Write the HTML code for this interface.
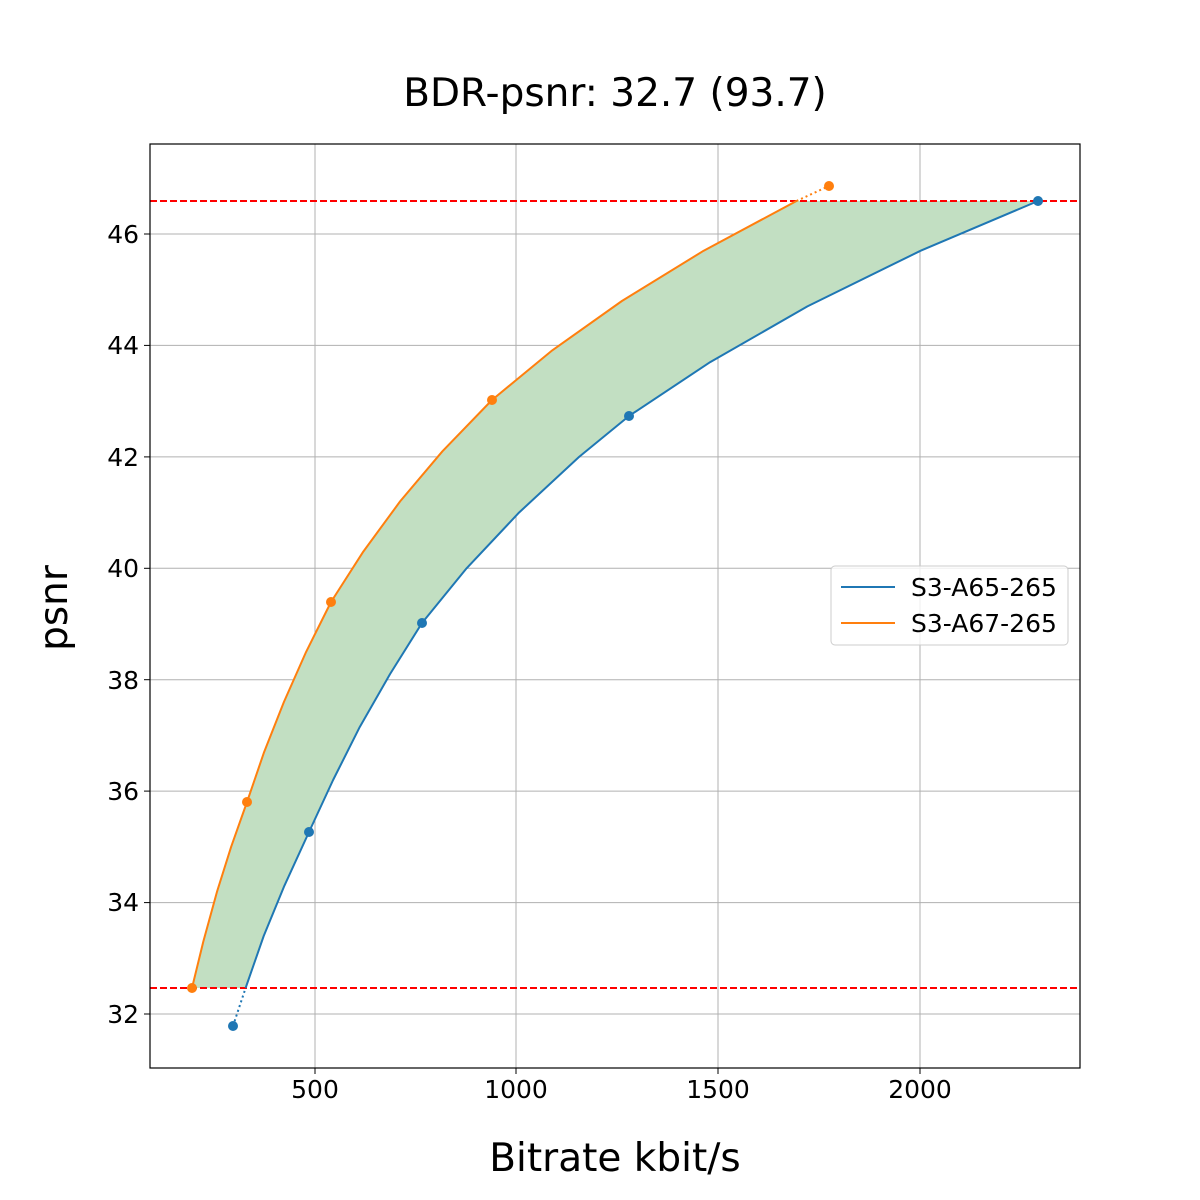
<!DOCTYPE html>
<html><head><meta charset="utf-8"><style>body{margin:0;background:#fff}svg{display:block}</style></head>
<body>
<svg width="1200" height="1200" xmlns="http://www.w3.org/2000/svg" font-family="DejaVu Sans, Liberation Sans, sans-serif">
<rect width="1200" height="1200" fill="#fff"/>
<g stroke="#b0b0b0" stroke-width="1">
<line x1="315" y1="144" x2="315" y2="1068"/><line x1="516" y1="144" x2="516" y2="1068"/>
<line x1="718" y1="144" x2="718" y2="1068"/><line x1="920" y1="144" x2="920" y2="1068"/>
<line x1="150" y1="234" x2="1080" y2="234"/><line x1="150" y1="345.4" x2="1080" y2="345.4"/>
<line x1="150" y1="456.9" x2="1080" y2="456.9"/><line x1="150" y1="568.3" x2="1080" y2="568.3"/>
<line x1="150" y1="679.7" x2="1080" y2="679.7"/><line x1="150" y1="791.1" x2="1080" y2="791.1"/>
<line x1="150" y1="902.6" x2="1080" y2="902.6"/><line x1="150" y1="1014" x2="1080" y2="1014"/>
</g>
<polygon points="192,988 203.3,941.6 217.1,891.4 231.1,846.9 247,802 264.1,752.1 283.9,702 306.1,651.9 331,602 363.3,551.6 400.1,501.4 442.4,451.3 492,400 551.3,351.1 621.9,301 703.7,250.7 796.5,201 1038,201 920.7,250.7 807.4,306.4 710.2,362.1 629,416 579.1,456.9 519,512.6 466.6,568.3 422,623 390,674.1 359.7,727.1 333.1,780 309,832 284.3,885.9 263.7,936 245.6,988" fill="#c2dfc2"/>
<g stroke="#ff0000" stroke-width="2" stroke-dasharray="7,3">
<line x1="150" y1="201" x2="1080" y2="201"/><line x1="150" y1="988" x2="1080" y2="988"/>
</g>
<polyline points="245.6,988 263.7,936 284.3,885.9 309,832 333.1,780 359.7,727.1 390,674.1 422,623 466.6,568.3 519,512.6 579.1,456.9 629,416 710.2,362.1 807.4,306.4 920.7,250.7 1038,201" fill="none" stroke="#1f77b4" stroke-width="2" stroke-linejoin="round"/>
<line x1="233" y1="1026" x2="245.6" y2="988" stroke="#1f77b4" stroke-width="2" stroke-dasharray="2,3"/>
<g fill="#1f77b4"><circle cx="233" cy="1026" r="5"/><circle cx="309" cy="832" r="5"/><circle cx="422" cy="623" r="5"/><circle cx="629" cy="416" r="5"/><circle cx="1038" cy="201" r="5"/></g>
<polyline points="192,988 203.3,941.6 217.1,891.4 231.1,846.9 247,802 264.1,752.1 283.9,702 306.1,651.9 331,602 363.3,551.6 400.1,501.4 442.4,451.3 492,400 551.3,351.1 621.9,301 703.7,250.7 796.5,201" fill="none" stroke="#ff7f0e" stroke-width="2" stroke-linejoin="round"/>
<line x1="796.5" y1="201" x2="829" y2="186" stroke="#ff7f0e" stroke-width="2" stroke-dasharray="2,3"/>
<g fill="#ff7f0e"><circle cx="192" cy="988" r="5"/><circle cx="247" cy="802" r="5"/><circle cx="331" cy="602" r="5"/><circle cx="492" cy="400" r="5"/><circle cx="829" cy="186" r="5"/></g>
<rect x="150" y="144" width="930" height="924" fill="none" stroke="#000" stroke-width="1.2"/>
<g stroke="#000"><line x1="315" y1="1068" x2="315" y2="1074"/><line x1="516" y1="1068" x2="516" y2="1074"/><line x1="718" y1="1068" x2="718" y2="1074"/><line x1="920" y1="1068" x2="920" y2="1074"/>
<line x1="144" y1="234" x2="150" y2="234"/><line x1="144" y1="345.4" x2="150" y2="345.4"/><line x1="144" y1="456.9" x2="150" y2="456.9"/><line x1="144" y1="568.3" x2="150" y2="568.3"/><line x1="144" y1="679.7" x2="150" y2="679.7"/><line x1="144" y1="791.1" x2="150" y2="791.1"/><line x1="144" y1="902.6" x2="150" y2="902.6"/><line x1="144" y1="1014" x2="150" y2="1014"/></g>
<g font-size="25" fill="#000" text-anchor="middle"><text x="315" y="1098">500</text><text x="516" y="1098">1000</text><text x="718" y="1098">1500</text><text x="920" y="1098">2000</text></g>
<g font-size="25" fill="#000" text-anchor="end"><text x="139" y="243">46</text><text x="139" y="354">44</text><text x="139" y="466">42</text><text x="139" y="577">40</text><text x="139" y="689">38</text><text x="139" y="800">36</text><text x="139" y="911">34</text><text x="139" y="1023">32</text></g>
<text x="615" y="106" font-size="39" text-anchor="middle">BDR-psnr: 32.7 (93.7)</text>
<text x="615" y="1171" font-size="39" text-anchor="middle">Bitrate kbit/s</text>
<text transform="translate(67,608) rotate(-90)" font-size="39" text-anchor="middle">psnr</text>
<rect x="831" y="566" width="237" height="79" rx="4" fill="#fff" fill-opacity="0.8" stroke="#ccc"/>
<line x1="841" y1="587" x2="895" y2="587" stroke="#1f77b4" stroke-width="2"/>
<line x1="841" y1="623" x2="895" y2="623" stroke="#ff7f0e" stroke-width="2"/>
<g font-size="25" fill="#000"><text x="911" y="596">S3-A65-265</text><text x="911" y="632">S3-A67-265</text></g>
</svg>
</body></html>
